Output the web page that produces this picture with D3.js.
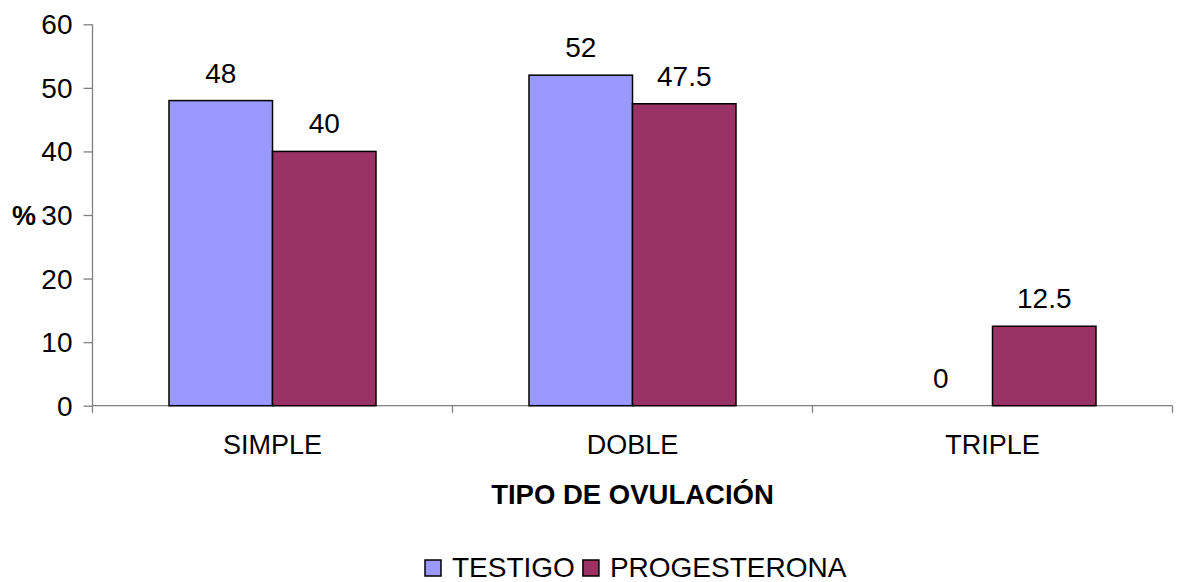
<!DOCTYPE html>
<html>
<head>
<meta charset="utf-8">
<script src="https://cdn.jsdelivr.net/npm/d3@7"></script>
<style>
  html, body { margin: 0; padding: 0; background: #fff; }
  svg { display: block; font-family: "Liberation Sans", Arial, sans-serif; }
</style>
</head>
<body>
<svg id="chart" width="1177" height="582"></svg>
<script>
const categories = ["SIMPLE", "DOBLE", "TRIPLE"];
const seriesNames = ["TESTIGO", "PROGESTERONA"];
const testigo = [48, 52, 0];
const progesterona = [40, 47.5, 12.5];
const yTicks = [0, 10, 20, 30, 40, 50, 60];
const colors = ["#9999FF", "#993366"];
const xTitle = "TIPO DE OVULACIÓN";
const yTitle = "%";

(function () {
const seriesValues = [testigo, progesterona];
const svg = d3.select("#chart");

const pLeft = 92.5, pRight = 1172.5, pTop = 24.3, pBottom = 405.7;

const y = d3.scaleLinear().domain([0, 60]).range([pBottom, pTop]);
const x = d3.scaleBand().domain(categories).range([pLeft, pRight]).padding(0);
const xs = d3.scaleBand().domain(seriesNames).range([76.5, x.bandwidth() - 76.5]).padding(0);

// Y axis
const yAxis = d3.axisLeft(y).tickValues(yTicks).tickSize(9).tickPadding(11).tickFormat(d3.format("d"));
const gy = svg.append("g").attr("transform", `translate(${pLeft},0)`).call(yAxis);
gy.select(".domain").attr("stroke", "#808080").attr("stroke-width", 1.3).attr("d", `M0,${pTop}V${pBottom + 7}`);
gy.selectAll(".tick line").attr("stroke", "#808080").attr("stroke-width", 1.3);
gy.selectAll(".tick text").attr("font-size", 28).attr("fill", "#000").attr("dy", "0.34em")
  .attr("font-family", "Liberation Sans, Arial, sans-serif");

// X axis
const gx = svg.append("g").attr("transform", `translate(0,${pBottom})`);
gx.append("line").attr("x1", pLeft).attr("x2", pRight).attr("y1", 0).attr("y2", 0)
  .attr("stroke", "#808080").attr("stroke-width", 1.3);
categories.forEach(c => {
  gx.append("line").attr("x1", x(c) + x.bandwidth()).attr("x2", x(c) + x.bandwidth())
    .attr("y1", 0).attr("y2", 7).attr("stroke", "#808080").attr("stroke-width", 1.3);
  gx.append("text").attr("x", x(c) + x.bandwidth() / 2).attr("y", 48.5)
    .attr("text-anchor", "middle").attr("font-size", 27).attr("fill", "#000").text(c);
});

// Bars
seriesNames.forEach((s, si) => {
  const vals = seriesValues[si];
  const g = svg.append("g");
  categories.forEach((c, ci) => {
    const v = vals[ci];
    if (v > 0) {
      g.append("rect")
        .attr("x", x(c) + xs(s))
        .attr("y", y(v))
        .attr("width", xs.bandwidth())
        .attr("height", y(0) - y(v))
        .attr("fill", colors[si])
        .attr("stroke", "#000")
        .attr("stroke-width", 1.5);
    }
    g.append("text")
      .attr("x", x(c) + xs(s) + xs.bandwidth() / 2)
      .attr("y", y(v) - 18)
      .attr("text-anchor", "middle")
      .attr("font-size", 28)
      .attr("fill", "#000")
      .text(String(v));
  });
});

// Y title
svg.append("text").attr("x", 24).attr("y", y(30) + 10).attr("text-anchor", "middle")
  .attr("font-size", 27).attr("font-weight", "bold").text(yTitle);

// X title
svg.append("text").attr("x", (pLeft + pRight) / 2).attr("y", 504).attr("text-anchor", "middle")
  .attr("font-size", 27.5).attr("font-weight", "bold").text(xTitle);

// Legend
const legend = svg.append("g");
let lx = 425;
seriesNames.forEach((s, si) => {
  legend.append("rect").attr("x", lx).attr("y", 560).attr("width", 16).attr("height", 16)
    .attr("fill", colors[si]).attr("stroke", "#000").attr("stroke-width", 1.5);
  const t = legend.append("text").attr("x", lx + 27).attr("y", 577)
    .attr("font-size", 28).attr("fill", "#000").text(s);
  lx += 27 + t.node().getComputedTextLength() + 8;
});
})();
</script>
</body>
</html>
